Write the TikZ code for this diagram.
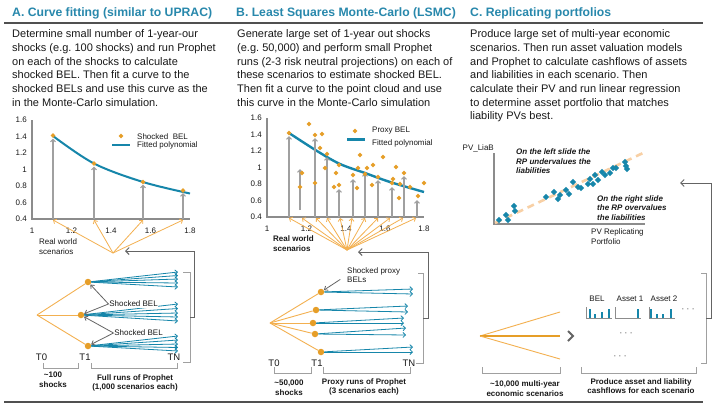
\documentclass[tikz,border=0pt]{standalone}
\usepackage{fontspec}
\setmainfont{Liberation Sans}
\usetikzlibrary{arrows.meta,shapes.geometric}
\definecolor{titleblue}{RGB}{40,136,172}
\definecolor{txt}{RGB}{25,25,25}
\definecolor{orl}{RGB}{243,176,80}
\definecolor{ord}{RGB}{230,158,40}
\definecolor{tealc}{RGB}{22,134,170}
\definecolor{garr}{RGB}{160,160,160}
\definecolor{gcon}{RGB}{100,100,100}
\definecolor{rulec}{RGB}{80,80,80}
\definecolor{peach}{RGB}{248,208,165}
\definecolor{axc}{RGB}{140,140,140}
\frenchspacing
\begin{document}
\begin{tikzpicture}[x=1pt,y=-1pt,
  ttl/.style={font=\fontsize{12.2}{14}\selectfont\bfseries,text=titleblue,anchor=base west,inner sep=0pt},
  bodyt/.style={font=\fontsize{11}{13}\selectfont,text=txt,anchor=base west,inner sep=0pt},
  lbl/.style={font=\fontsize{8}{9.5}\selectfont,text=txt,inner sep=0pt},
  lblb/.style={font=\fontsize{8}{9.6}\selectfont\bfseries,text=txt,inner sep=0pt,align=center},
  lblbi/.style={font=\fontsize{8}{9.5}\selectfont\bfseries\itshape,text=txt,inner sep=0pt,align=left},
  tlab/.style={font=\fontsize{9.5}{11}\selectfont,text=txt,inner sep=0pt},
  axisl/.style={draw=axc,line width=1.3pt},
  brk/.style={draw=garr,line width=0.9pt},
  varr/.style={draw=garr,line width=1.1pt,-{Straight Barb[length=2.5pt,width=5pt]}},
  oarr/.style={draw=orl,line width=0.8pt,-{Straight Barb[length=2.5pt,width=5pt]}},
  barr/.style={draw=tealc,line width=0.8pt,-{Straight Barb[length=2.5pt,width=5pt]}},
  karr/.style={draw=gcon,line width=0.8pt,-{Straight Barb[length=3pt,width=5pt]}},
  conn/.style={draw=gcon,line width=1pt,-{Straight Barb[length=3.5pt,width=7pt]}},
  odm/.style={diamond,fill=ord,inner sep=0pt,minimum size=5pt},
  bdm/.style={diamond,fill=tealc,inner sep=0pt,minimum size=6.5pt},
  odot/.style={circle,fill=ord,inner sep=0pt,minimum size=6.5pt},
  crv/.style={draw=tealc,line width=2pt},
  olin/.style={draw=orl,line width=0.9pt},
  cfbar/.style={draw=tealc,line width=2.6pt},
  cfax/.style={draw=axc,line width=1pt},
]
\fill[white] (0,0) rectangle (718,408);
\useasboundingbox (0,0) rectangle (718,408);

% ---------- titles and rules ----------
\node[ttl] (tA) at (12,16.8) {A. Curve fitting (similar to UPRAC)};
\node[ttl] (tB) at (236,16.8) {B. Least Squares Monte-Carlo (LSMC)};
\node[ttl] (tC) at (470,16.8) {C. Replicating portfolios};
\draw[draw=rulec,line width=1.8pt] (4,23) -- (703,23);
\draw[draw=rulec,line width=1.8pt] (4,402) -- (703,402);

% ---------- body texts ----------
\foreach \s [count=\i from 0] in {Determine small number of 1-year-our,
  shocks (e.g. 100 shocks) and run Prophet,
  on each of the shocks to calculate,
  shocked BEL. Then fit a curve to the,
  shocked BELs and use this curve as the,
  in the Monte-Carlo simulation.}
  \node[bodyt] (a\i) at (12,37.8+13.64*\i) {\s};
\foreach \s [count=\i from 0] in {Generate large set of 1-year out shocks,
  {(e.g. 50,000) and perform small Prophet},
  runs (2-3 risk neutral projections) on each of,
  these scenarios to estimate shocked BEL.,
  Then fit a curve to the point cloud and use,
  this curve in the Monte-Carlo simulation}
  \node[bodyt] (b\i) at (237,37.8+13.64*\i) {\s};
\foreach \s [count=\i from 0] in {Produce large set of multi-year economic,
  scenarios. Then run asset valuation models,
  and Prophet to calculate cashflows of assets,
  and liabilities in each scenario. Then,
  calculate their PV and run linear regression,
  to determine asset portfolio that matches,
  liability PVs best.}
  \node[bodyt] (c\i) at (470,37.8+13.64*\i) {\s};

% ================= PANEL A =================
\foreach \v/\yy [count=\k] in {1.6/120,1.4/136.5,1.2/153,1/169.5,0.8/186,0.6/202.5,0.4/219}
  \node[lbl,anchor=east] (ay\k) at (27,\yy) {\v};
\foreach \v/\xx [count=\k] in {1/32,1.2/71.5,1.4/111,1.6/150.5,1.8/190}
  \node[lbl] (ax\k) at (\xx,230.5) {\v};
\draw[axisl] (32,120) -- (32,219) -- (190,219);
\draw[crv] plot[smooth,tension=0.55] coordinates {(53,136) (94,163.5) (143,182) (190,193.5)};
\foreach \xx/\yy in {53/138.5,94/166.5,143/184.5,183/193}
  \draw[varr] (\xx,219) -- (\xx,\yy);
\foreach \xx/\yy [count=\k] in {53/135.5,94/163.5,143/182,183/190.5}
  \node[odm] (pA\k) at (\xx,\yy) {};
% legend
\node[odm] (lgA1) at (121,136) {};
\node[lbl,anchor=west] (lgA1t) at (137,136.5) {Shocked\ \ BEL};
\draw[crv,line width=2.2pt] (112,145) -- (130,145);
\node[lbl,anchor=west] (lgA2t) at (137,145.5) {Fitted polynomial};
% real world fan
\coordinate (rwA) at (113,253);
\foreach \xx [count=\k] in {53,94,143,183}
  {\coordinate (xa\k) at (\xx,220); \draw[oarr] (rwA) -- (xa\k);}
\node[lbl,align=left,anchor=west] (rwAl) at (39,246.5) {Real world\\scenarios};
% tree
\coordinate (rA) at (37,315);
\node[odot] (nA1) at (88,282) {};
\node[odot] (nA2) at (81,315) {};
\node[odot] (nA3) at (88,346) {};
\foreach \k in {1,2,3} \draw[olin] (rA) -- (nA\k);
\foreach \yy [count=\k] in {272,275.5,279,283,287}
  {\coordinate (fA1\k) at (178,\yy); \draw[barr] (nA1) -- (fA1\k);}
\foreach \yy [count=\k] in {304,308.5,313,317,321}
  {\coordinate (fA2\k) at (178,\yy); \draw[barr] (nA2) -- (fA2\k);}
\foreach \yy [count=\k] in {336,340,344,347.5,351}
  {\coordinate (fA3\k) at (178,\yy); \draw[barr] (nA3) -- (fA3\k);}
\node[lbl,anchor=west,fill=white,inner sep=0.6pt] (sbA1) at (108.5,304) {Shocked BEL};
\node[lbl,anchor=west,fill=white,inner sep=0.6pt] (sbA2) at (113.5,333) {Shocked BEL};
\draw[karr] (sbA1.west) -- (nA1);
\draw[karr] (sbA1.west) -- (nA2);
\draw[karr] (sbA2.west) -- (nA2);
\draw[karr] (sbA2.west) -- (nA3);
\node[tlab] (T0A) at (41.5,357.5) {T0};
\node[tlab] (T1A) at (85,357.5) {T1};
\node[tlab] (TNA) at (174,357.5) {TN};
\draw[brk] (43,363) -- (43,368) -- (78,368) -- (78,363);
\node[lblb] (shA) at (53,380) {\textasciitilde100\\shocks};
\draw[brk] (91,363) -- (91,368) -- (177,368) -- (177,363);
\node[lblb] (frA) at (135,383) {Full runs of Prophet\\(1,000 scenarios each)};
% connector
\draw[brk] (183,272) -- (190,272) -- (190,362) -- (183,362);
\coordinate (bkA) at (190,317);
\coordinate (rwAin) at (125,251);
\draw[conn] (bkA) -- ++(4,0) |- (rwAin);

% ================= PANEL B =================
\foreach \v/\yy [count=\k] in {1.6/118,1.4/134.5,1.2/151,1/167.5,0.8/184,0.6/200.5,0.4/217}
  \node[lbl,anchor=east] (by\k) at (262,\yy) {\v};
\foreach \v/\xx [count=\k] in {1/267,1.2/306.5,1.4/346,1.6/385,1.8/424}
  \node[lbl] (bx\k) at (\xx,228.5) {\v};
\draw[axisl] (267,118) -- (267,217) -- (424,217);
\draw[crv,line width=2.4pt] plot[smooth,tension=0.55] coordinates {(289,133) (317,151) (340,164) (365,173) (390,182) (424,192)};
\foreach \xx/\ya/\yb in {289/217/136,300/210/169,315/217/138,327/217/157,339/217/189,353/217/179,365/217/173,378/217/180,392/217/187,404/217/176,417/217/200}
  \draw[varr] (\xx,\ya) -- (\xx,\yb);
\foreach \xx/\yy [count=\k] in {289/133,309/124,315/135,322/134,320/148,327/154,325/168,315/183,302/173,300/187,339/165,336/173,334/187,339/185,360/155,358/168,353/175,357/188,367/168,365/174,373/165,383/157,378/177,372/185,396/167,393/179,392/183,400/184,399/198,404/173,410/187,418/196,424/183}
  \node[odm] (pB\k) at (\xx,\yy) {};
% legend
\node[odm] (lgB1) at (355,131) {};
\node[lbl,anchor=west] (lgB1t) at (372,130.5) {Proxy BEL};
\draw[crv,line width=3pt] (347,139) -- (365,139);
\node[lbl,anchor=west] (lgB2t) at (372,143) {Fitted polynomial};
% real world fan
\coordinate (rwB) at (347,250);
\foreach \xx [count=\k] in {289,302,316,327,340,352,365,378,390,403,416}
  {\coordinate (xb\k) at (\xx,218); \draw[oarr] (rwB) -- (xb\k);}
\node[lblb,align=left,anchor=west] (rwBl) at (273,243.5) {Real world\\scenarios};
% tree
\coordinate (rB) at (270,323);
\node[odot] (nB1) at (321,292) {};
\node[odot] (nB2) at (316,310) {};
\node[odot] (nB3) at (313,323) {};
\node[odot] (nB4) at (315,334) {};
\node[odot] (nB5) at (321,352) {};
\foreach \k in {1,...,5} \draw[olin] (rB) -- (nB\k);
\foreach \n/\xx/\ya/\yb in {1/413/289/294,2/408/306/312,3/404/318/323,4/406/328/335,5/413/347/352}
  {\coordinate (fB\n a) at (\xx,\ya); \coordinate (fB\n b) at (\xx,\yb);
   \draw[barr] (nB\n) -- (fB\n a); \draw[barr] (nB\n) -- (fB\n b);}
\node[lbl,align=left,anchor=west] (spB) at (347,275) {Shocked proxy\\BELs};
\draw[karr,shorten <=8pt] (spB.west) -- (nB1);
\node[tlab] (T0B) at (274,363) {T0};
\node[tlab] (T1B) at (317,363) {T1};
\node[tlab] (TNB) at (409,363) {TN};
\draw[brk] (274,367) -- (274,373) -- (311,373) -- (311,367);
\node[lblb] (shB) at (289,388) {\textasciitilde50,000\\shocks};
\draw[brk] (323,367) -- (323,373) -- (410,373) -- (410,367);
\node[lblb] (prB) at (364,387) {Proxy runs of Prophet\\(3 scenarios each)};
% connector
\draw[brk] (418,273) -- (423,273) -- (423,363) -- (416,363);
\coordinate (bkB) at (423,318);
\coordinate (rwBin) at (358,252);
\draw[conn] (bkB) -- ++(5,0) |- (rwBin);

% ================= PANEL C =================
\draw[axisl] (494,153) -- (494,224) -- (645,224);
\node[lbl,anchor=east] (pvl) at (494,148) {PV\_LiaB};
\draw[draw=peach,line width=2.6pt,dash pattern=on 7pt off 5pt] (495,223) -- (643,153);
\foreach \xx/\yy [count=\k] in {499/220,506/215,508/220,514/206,515/211,546/197,554/192,558/199,560/195,566/190,569/194,573/182,578/187,581/188,588/184,590/179,593/184,595/175,598/180,602/172,605/175,610/173,613/168,616/168,625/162,626/166,627/169}
  \node[bdm] (pC\k) at (\xx,\yy) {};
\node[lblbi,anchor=west] (ltxt) at (516,161.5) {On the left slide the\\RP undervalues the\\liabilities};
\node[lblbi,anchor=west] (rtxt) at (597,208) {On the right slide\\the RP overvalues\\the liabilities};
\node[lbl,align=left,anchor=west] (pvrp) at (591,236.5) {PV Replicating\\Portfolio};
% fan
\coordinate (rC) at (480,336);
\coordinate (fC1) at (560,312);
\coordinate (fC2) at (560,336);
\coordinate (fC3) at (560,359);
\draw[olin] (rC) -- (fC1);
\draw[draw=ord,line width=2.6pt] (rC) -- (fC2);
\draw[olin] (rC) -- (fC3);
\draw[draw=gcon,line width=2pt] (568,331) -- (573,336) -- (568,341);
% bar charts
\node[lbl] (belC) at (597,299) {BEL};
\node[lbl] (as1C) at (630,299) {Asset 1};
\node[lbl] (as2C) at (664,299) {Asset 2};
\draw[cfax] (586,307) -- (586,318) -- (612,318);
\draw[cfax] (615,307) -- (615,318) -- (641,318);
\draw[cfax] (649,307) -- (649,318) -- (675,318);
\foreach \xx/\hh in {590/9,595/4,602/6,609/9,638/9,651/9,657/4,663/4,671/9}
  \draw[cfbar] (\xx,317.5) -- ++(0,-\hh);
\node[lbl] (dC1) at (688,310) {·\hspace{2.5pt}·\hspace{2.5pt}·};
\node[lbl] (dC2) at (626,334) {·\hspace{2.5pt}·\hspace{2.5pt}·};
\node[lbl] (dC3) at (620,357) {·\hspace{2.5pt}·\hspace{2.5pt}·};
\draw[brk] (482,367) -- (482,373) -- (560,373) -- (560,367);
\node[lblb] (scC) at (525,388.5) {\textasciitilde10,000 multi-year\\economic scenarios};
\draw[brk] (581,367) -- (581,373) -- (696,373) -- (696,367);
\node[lblb] (pcC) at (641,386) {Produce asset and liability\\cashflows for each scenario};
% connector
\draw[brk] (701,273) -- (706,273) -- (706,363) -- (701,363);
\coordinate (bkC) at (706,318);
\coordinate (rpC) at (680,183);
\draw[conn] (bkC) -- ++(5,0) |- (rpC);
\end{tikzpicture}
\end{document}
